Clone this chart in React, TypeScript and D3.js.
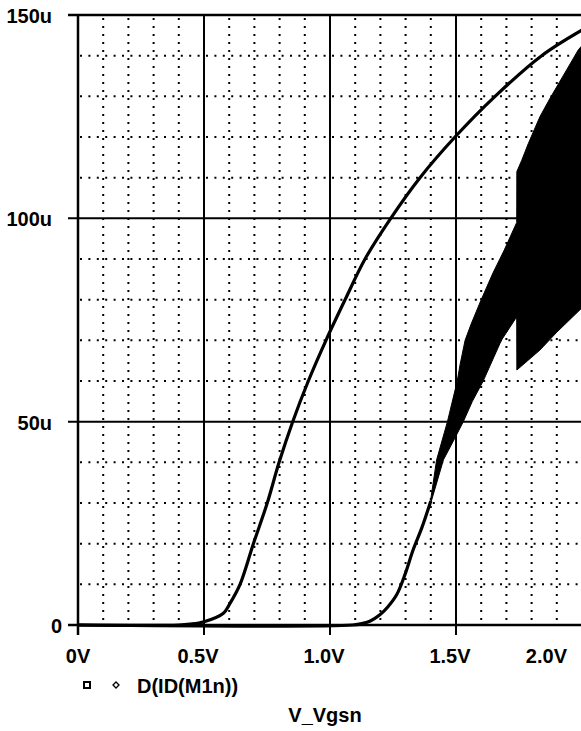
import React from "react";
import * as d3 from "d3";

// ---- data (V, uA) ----
const idCurveV = [0, 0.4, 0.444, 0.5, 0.577, 0.603, 0.643, 0.696, 0.751, 0.798, 0.852, 0.914, 0.984, 1.06, 1.139, 1.241, 1.357, 1.496, 1.655, 1.84, 2.0];
const idCurveU = [0, 0, 0.2, 0.8, 2.9, 5.3, 10, 20, 30, 40, 50, 60, 70, 80, 90, 100, 110, 120, 130, 140, 146.3];

const derivLineV = [0, 1.09, 1.13, 1.16, 1.198, 1.23, 1.265, 1.298, 1.33, 1.365, 1.4];
const derivLineU = [0, 0, 0.4, 1, 2.5, 4.5, 7.5, 12.5, 18.5, 24, 30.5];

// noisy region: upper and lower envelope of the oscillating trace
const bandUpperV = [1.4, 1.423, 1.466, 1.505, 1.516, 1.536, 1.56, 1.6, 1.647, 1.69, 1.741, 1.7415, 1.761, 1.787, 1.833, 1.873, 1.939, 1.985, 2.0];
const bandUpperU = [31, 40.6, 50, 60, 64, 70, 74, 80, 86.6, 92, 99, 111.5, 114.3, 118.4, 125, 129.5, 136.5, 141.4, 142.5];
const bandLowerV = [1.4, 1.45, 1.5, 1.529, 1.565, 1.608, 1.68, 1.738, 1.741, 1.7415, 1.833, 1.9, 2.0];
const bandLowerU = [30, 40.6, 46.5, 50, 55, 60, 70, 75.5, 75.5, 62.7, 67.6, 72, 78];

const xMajor = [0, 0.5, 1.0, 1.5, 2.0];
const xLabels = ["0V", "0.5V", "1.0V", "1.5V", "2.0V"];
const yMajor = [0, 50, 100, 150];
const yLabels = ["0", "50u", "100u", "150u"];
const legendLabel = "D(ID(M1n))";
const xTitle = "V_Vgsn";

const W = 581;
const H = 731;
const FONT = "'Liberation Sans', Arial, sans-serif";

export default function App() {
  const x = d3.scaleLinear().domain([0, 2.0]).range([78, 582]);
  const y = d3.scaleLinear().domain([0, 150]).range([625, 15]);

  const xMinor = d3.range(1, 20).map((i) => i / 10).filter((v) => Math.abs(v * 2 - Math.round(v * 2)) > 1e-6);
  const yMinor = d3.range(10, 150, 10).filter((v) => v % 50 !== 0);

  const toPts = (vs: number[], us: number[]) => vs.map((v, i) => [v, us[i]] as [number, number]);

  const smooth = d3
    .line<[number, number]>()
    .x((d) => x(d[0]))
    .y((d) => Math.min(y(0), y(d[1])))
    .curve(d3.curveCatmullRom.alpha(0.5));
  const straight = d3
    .line<[number, number]>()
    .x((d) => x(d[0]))
    .y((d) => y(d[1]));

  const idPath = smooth(toPts(idCurveV, idCurveU)) || "";
  const derivPath = smooth(toPts(derivLineV, derivLineU)) || "";
  const bandPts = toPts(bandUpperV, bandUpperU).concat(toPts(bandLowerV, bandLowerU).reverse());
  const bandPath = (straight(bandPts) || "") + "Z";

  const x0 = x(0);
  const yTop = y(150);
  const yBot = y(0);

  const xLabelPos = (v: number, i: number) => {
    if (i === 0) return { x: x(v), anchor: "middle" };
    if (i === xMajor.length - 1) return { x: 567, anchor: "end" };
    return { x: x(v) - 6, anchor: "middle" };
  };

  return (
    <svg
      width={W}
      height={H}
      style={{ position: "absolute", left: 0, top: 0, background: "#fff" }}
      fontFamily={FONT}
      fontWeight="bold"
    >
      <rect x={0} y={0} width={W} height={H} fill="#fff" />
      {/* minor dotted grid */}
      {xMinor.map((v) => (
        <line key={"xm" + v} x1={x(v)} x2={x(v)} y1={yTop + 3} y2={yBot} stroke="#000" strokeWidth={2} strokeDasharray="2 6" />
      ))}
      {yMinor.map((v) => (
        <line key={"ym" + v} x1={x0 + 2} x2={W} y1={y(v)} y2={y(v)} stroke="#000" strokeWidth={2} strokeDasharray="2 6.4" />
      ))}
      {/* major solid grid */}
      {xMajor.slice(1).map((v) => (
        <line key={"xM" + v} x1={x(v)} x2={x(v)} y1={yTop} y2={yBot + 10} stroke="#000" strokeWidth={2} />
      ))}
      {yMajor.map((v) => (
        <line key={"yM" + v} x1={x0 - 10} x2={W} y1={y(v)} y2={y(v)} stroke="#000" strokeWidth={v === 0 || v === 150 ? 2.5 : 2} />
      ))}
      {/* traces */}
      <path d={bandPath} fill="#000" stroke="#000" strokeWidth={1} strokeLinejoin="round" />
      <path d={derivPath} fill="none" stroke="#000" strokeWidth={3.2} />
      <path d={idPath} fill="none" stroke="#000" strokeWidth={3.2} />
      {/* left axis */}
      <line x1={x0} x2={x0} y1={yTop} y2={yBot + 10} stroke="#000" strokeWidth={2.5} />
      {/* y labels */}
      {yMajor.map((v, i) => (
        <text key={"yl" + v} x={yLabels[i].endsWith("u") ? 52 : 62} y={y(v) + 8} textAnchor="end" fontSize={20}>
          {yLabels[i]}
        </text>
      ))}
      {/* x labels */}
      {xMajor.map((v, i) => {
        const p = xLabelPos(v, i);
        return (
          <text key={"xl" + v} x={p.x} y={663} textAnchor={p.anchor as any} fontSize={20}>
            {xLabels[i]}
          </text>
        );
      })}
      {/* legend */}
      <rect x={84} y={682} width={6} height={6} fill="none" stroke="#000" strokeWidth={2} />
      <path d="M116,682 L119,685 L116,688 L113,685 Z" fill="none" stroke="#000" strokeWidth={1.3} />
      <text x={137} y={693} fontSize={20}>
        {legendLabel}
      </text>
      <text x={325} y={722} textAnchor="middle" fontSize={20}>
        {xTitle}
      </text>
    </svg>
  );
}
